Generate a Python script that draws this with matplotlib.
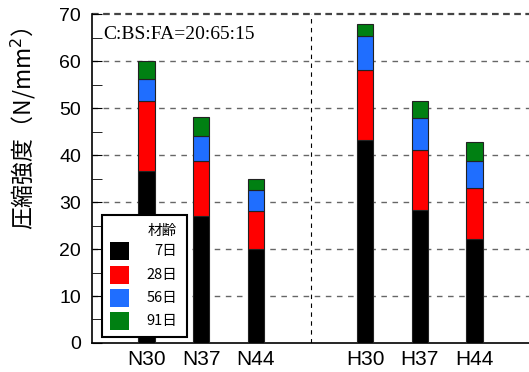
import numpy as np
import matplotlib.pyplot as plt
from matplotlib.patches import Rectangle

# 配合と材齢ごとの圧縮強度 (N/mm2)
labels = ["N30", "N37", "N44", "H30", "H37", "H44"]
pos = [0, 1, 2, 4, 5, 6]
ages = ["7日", "28日", "56日", "91日"]
s7 = [36.6, 27.1, 19.9, 43.3, 28.3, 22.2]
s28 = [51.6, 38.7, 28.1, 58.1, 41.1, 33.0]
s56 = [56.1, 44.0, 32.6, 65.4, 47.8, 38.7]
s91 = [60.0, 48.0, 34.8, 67.8, 51.6, 42.7]
colors = ["#000000", "#ff0000", "#1f6eff", "#008012"]

jp = ["Noto Sans CJK JP", "DejaVu Sans"]

fig = plt.figure(figsize=(5.29, 3.72), dpi=100)
ax = fig.add_axes([0.174, 0.078, 0.826, 0.884])

# 積み上げ棒 (各材齢の増分)
tops = [s7, s28, s56, s91]
prev = np.zeros(len(pos))
for t, c in zip(tops, colors):
    t = np.array(t)
    ax.bar(pos, t - prev, bottom=prev, width=0.3, color=c,
           edgecolor="#222222", linewidth=0.8, zorder=3)
    prev = t

ax.set_xlim(-1, 7)
ax.set_ylim(0, 70)
ax.set_yticks(np.arange(0, 71, 10))
ax.set_yticks(np.arange(0, 71, 5), minor=True)
ax.set_xticks(pos)
ax.set_xticklabels(labels, fontsize=15, family="Liberation Sans")
for lb in ax.get_yticklabels():
    lb.set_family("Liberation Sans")
ax.tick_params(axis="y", which="major", direction="in", length=7, labelsize=14, pad=8)
ax.tick_params(axis="y", which="minor", direction="in", length=7)
ax.tick_params(axis="x", length=0, pad=5)

for v in range(10, 70, 10):
    ax.axhline(v, color="#666666", lw=1.0, ls=(0, (4, 4)), zorder=1)
ax.axhline(70, color="#444444", lw=1.6, ls=(0, (3, 2)), zorder=1, clip_on=False)
ax.axvline(3, color="black", lw=0.8, ls=(0, (4, 4)), zorder=1)

ax.spines["top"].set_visible(False)
ax.spines["right"].set_visible(False)
ax.spines["left"].set_linewidth(1.2)
ax.spines["bottom"].set_linewidth(1.2)

ax.set_ylabel("圧縮強度（N/mm$^2$）", fontsize=16.5, family=jp)
ax.yaxis.set_label_coords(-0.124, 0.653)

ax.text(0.025, 0.965, "C:BS:FA=20:65:15", transform=ax.transAxes,
        fontsize=14, family="Liberation Serif", va="top", ha="left")

# 凡例 (右寄せの文字のため手作り)
ax.add_patch(Rectangle((0.0229, 0.0182), 0.1945, 0.371, transform=ax.transAxes,
                       facecolor="white", edgecolor="black", lw=1.5, zorder=6))
ax.text(0.1945, 0.3404, "材齢", transform=ax.transAxes, fontsize=10.5, family=jp,
        ha="right", va="center", zorder=7)
rows = [0.2796, 0.2067, 0.1368, 0.0669]
for yc, c, a in zip(rows, colors, ages):
    ax.add_patch(Rectangle((0.0412, yc - 0.0274), 0.0435, 0.0547, transform=ax.transAxes,
                           facecolor=c, edgecolor="none", zorder=7))
    ax.text(0.1945, yc, a, transform=ax.transAxes, fontsize=10.5, family=jp,
            ha="right", va="center", zorder=7)

fig.savefig("out.png", dpi=100)
